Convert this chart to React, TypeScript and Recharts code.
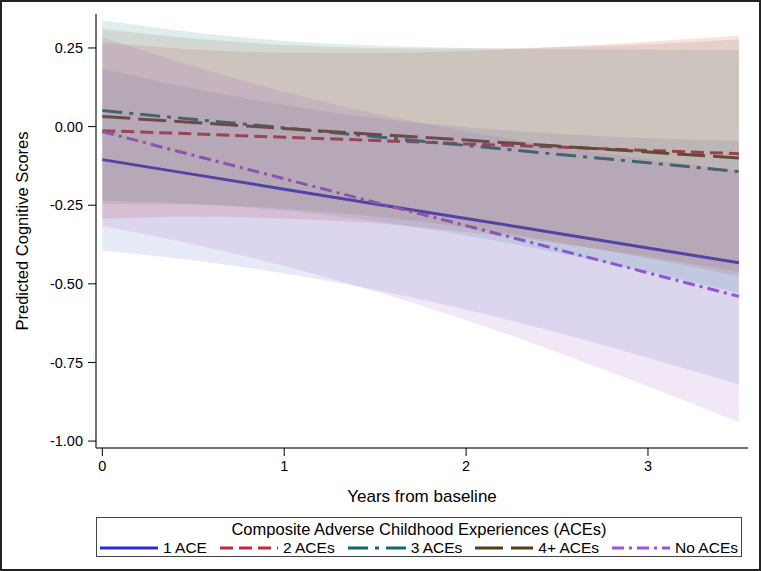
import React from "react";
import { ComposedChart, Line, Area, XAxis, YAxis } from "recharts";

// years from baseline
const years = [0, 0.5, 1, 1.5, 2, 2.5, 3, 3.5];

const ace1Mean = [-0.105, -0.152, -0.199, -0.246, -0.292, -0.339, -0.386, -0.433];
const ace1Lower = [-0.395, -0.425, -0.467, -0.519, -0.582, -0.655, -0.735, -0.82];
const ace1Upper = [0.185, 0.121, 0.069, 0.027, -0.002, -0.023, -0.037, -0.046];

const ace2Mean = [-0.013, -0.023, -0.034, -0.044, -0.055, -0.065, -0.076, -0.086];
const ace2Lower = [-0.293, -0.286, -0.292, -0.307, -0.335, -0.371, -0.414, -0.462];
const ace2Upper = [0.267, 0.245, 0.235, 0.234, 0.24, 0.253, 0.27, 0.29];

const ace3Mean = [0.051, 0.023, -0.004, -0.032, -0.06, -0.088, -0.115, -0.143];
const ace3Lower = [-0.235, -0.246, -0.267, -0.301, -0.346, -0.401, -0.462, -0.529];
const ace3Upper = [0.337, 0.3, 0.272, 0.258, 0.25, 0.246, 0.244, 0.243];

const ace4Mean = [0.032, 0.013, -0.006, -0.025, -0.043, -0.062, -0.081, -0.1];
const ace4Lower = [-0.246, -0.248, -0.261, -0.286, -0.321, -0.367, -0.419, -0.477];
const ace4Upper = [0.31, 0.28, 0.26, 0.25, 0.248, 0.252, 0.262, 0.277];

const noAceMean = [-0.016, -0.091, -0.166, -0.241, -0.315, -0.39, -0.465, -0.54];
const noAceLower = [-0.316, -0.374, -0.443, -0.524, -0.615, -0.717, -0.826, -0.94];
const noAceUpper = [0.284, 0.192, 0.111, 0.042, -0.015, -0.063, -0.104, -0.14];

const xTicks = [0, 1, 2, 3];
const yTicks = [-1, -0.75, -0.5, -0.25, 0, 0.25];

const FONT = '"Liberation Sans", Arial, sans-serif';

const series = [
  { key: "ace1", name: "1 ACE", mean: ace1Mean, lower: ace1Lower, upper: ace1Upper, color: "#2b2bd6", band: "#4b6cbc", dash: undefined },
  { key: "ace2", name: "2 ACEs", mean: ace2Mean, lower: ace2Lower, upper: ace2Upper, color: "#c0283c", band: "#c0392b", dash: "13 6" },
  { key: "ace3", name: "3 ACEs", mean: ace3Mean, lower: ace3Lower, upper: ace3Upper, color: "#0a6e62", band: "#23808e", dash: "20 7 4 7" },
  { key: "ace4", name: "4+ ACEs", mean: ace4Mean, lower: ace4Lower, upper: ace4Upper, color: "#5a3a10", band: "#8a5a2a", dash: "28 8" },
  { key: "none", name: "No ACEs", mean: noAceMean, lower: noAceLower, upper: noAceUpper, color: "#a04fe6", band: "#9b58bc", dash: "12 5 3 5" },
];

const data = years.map((t, i) => {
  const row: any = { t };
  series.forEach((s) => {
    row[s.key] = s.mean[i];
    row[s.key + "Band"] = [s.lower[i], s.upper[i]];
  });
  return row;
});

const domainX: [number, number] = [-0.035, 3.55];
const domainY: [number, number] = [-1.022, 0.358];
const margin = { top: 14, right: 13, left: 0, bottom: 63 };

const XTitle = ({ viewBox }: any) => (
  <text x={viewBox.x + viewBox.width / 2} y={viewBox.y + 54} textAnchor="middle" fontSize={17} fontFamily={FONT} fill="#000">
    Years from baseline
  </text>
);

const YTitle = ({ viewBox }: any) => {
  const cx = viewBox.x + 22;
  const cy = viewBox.y + viewBox.height / 2;
  return (
    <text x={cx} y={cy} transform={`rotate(-90 ${cx} ${cy})`} textAnchor="middle" dominantBaseline="central" fontSize={16.5} fontFamily={FONT} fill="#000">
      Predicted Cognitive Scores
    </text>
  );
};

// axes: same sizes in both layers so the scales line up
function axes(visible: boolean) {
  const line = visible ? { stroke: "#444", strokeWidth: 1.5 } : false;
  const tickLine = visible ? { stroke: "#000" } : false;
  const tick = visible ? { fill: "#000", fontSize: 14.5, fontFamily: FONT } : false;
  return [
    <XAxis
      key="x"
      dataKey="t"
      type="number"
      domain={domainX}
      ticks={xTicks}
      allowDataOverflow
      height={60}
      tickSize={8}
      tickMargin={5}
      axisLine={line}
      tickLine={tickLine}
      tick={tick}
      label={visible ? { content: XTitle } : undefined}
    />,
    <XAxis key="xt" xAxisId="top" orientation="top" type="number" domain={domainX} allowDataOverflow height={0} tick={false} tickLine={false} axisLine={line} />,
    <YAxis
      key="y"
      type="number"
      domain={domainY}
      ticks={yTicks}
      allowDataOverflow
      width={96}
      tickSize={8}
      tickMargin={5}
      tickFormatter={(v: number) => v.toFixed(2)}
      axisLine={line}
      tickLine={tickLine}
      tick={tick}
      label={visible ? { content: YTitle } : undefined}
    />,
    <YAxis key="yr" yAxisId="right" orientation="right" type="number" domain={domainY} allowDataOverflow width={0} tick={false} tickLine={false} axisLine={line} />,
  ];
}

export default function App() {
  return (
    <div style={{ position: "absolute", left: 0, top: 0, width: 761, height: 571, background: "#fff", fontFamily: FONT }}>
      <div style={{ position: "absolute", left: 0, top: 0, width: 761, height: 571, boxSizing: "border-box", border: "2px solid #222" }} />
      {/* lines underneath, bands drawn over them like the original */}
      <div style={{ position: "absolute", left: 0, top: 0 }}>
        <ComposedChart width={761} height={571} data={data} margin={margin}>
          {axes(false)}
          {series.map((s) => (
            <Line
              key={s.key}
              type="linear"
              dataKey={s.key}
              stroke={s.color}
              strokeWidth={3}
              strokeDasharray={s.dash}
              dot={false}
              activeDot={false}
              isAnimationActive={false}
            />
          ))}
        </ComposedChart>
      </div>
      <div style={{ position: "absolute", left: 0, top: 0 }}>
        <ComposedChart width={761} height={571} data={data} margin={margin}>
          {axes(true)}
          {series.map((s) => (
            <Area
              key={s.key + "Band"}
              type="monotone"
              dataKey={s.key + "Band"}
              stroke="none"
              fill={s.band}
              fillOpacity={0.14}
              dot={false}
              activeDot={false}
              isAnimationActive={false}
            />
          ))}
        </ComposedChart>
      </div>
      <div
        style={{
          position: "absolute",
          left: 96,
          top: 517,
          width: 646,
          height: 40,
          boxSizing: "border-box",
          border: "1.5px solid #444",
          color: "#000",
        }}
      >
        <div style={{ textAlign: "center", fontSize: 16.5, lineHeight: "19px", marginTop: 2 }}>Composite Adverse Childhood Experiences (ACEs)</div>
        <div style={{ display: "flex", alignItems: "center", justifyContent: "space-between", padding: "0 3px", fontSize: 15.5, lineHeight: "17px" }}>
          {series.map((s) => (
            <div key={s.key} style={{ display: "flex", alignItems: "center" }}>
              <svg width={58} height={8}>
                <line x1={0} y1={4} x2={58} y2={4} stroke={s.color} strokeWidth={3} strokeDasharray={s.dash} />
              </svg>
              <span style={{ marginLeft: 5 }}>{s.name}</span>
            </div>
          ))}
        </div>
      </div>
    </div>
  );
}
